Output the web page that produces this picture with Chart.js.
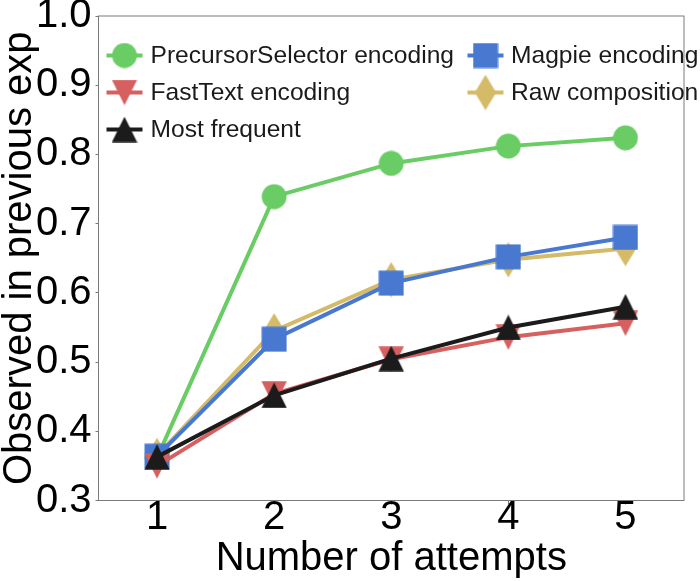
<!DOCTYPE html>
<html>
<head>
<meta charset="utf-8">
<script src="https://cdn.jsdelivr.net/npm/chart.js@4.4.1/dist/chart.umd.min.js"></script>
<style>
html,body{margin:0;padding:0;background:#ffffff;}
canvas{display:block;}
</style>
</head>
<body>
<canvas id="c" width="700" height="581"></canvas>
<script>
// ---- data ----
const attempts = [1, 2, 3, 4, 5];
const precursorSelector = [0.362, 0.739, 0.787, 0.812, 0.824];
const magpie = [0.364, 0.533, 0.614, 0.652, 0.680];
const fastText = [0.350, 0.454, 0.504, 0.536, 0.556];
const rawComposition = [0.365, 0.545, 0.619, 0.648, 0.664];
const mostFrequent = [0.363, 0.452, 0.505, 0.550, 0.580];
const xTicks = [1, 2, 3, 4, 5];
const yTicks = [0.3, 0.4, 0.5, 0.6, 0.7, 0.8, 0.9, 1.0];
const xTitle = 'Number of attempts';
const yTitle = 'Observed in previous exp';
// legend reading order (2 columns, row by row)
const legendOrder = ['PrecursorSelector encoding', 'Magpie encoding', 'FastText encoding', 'Raw composition', 'Most frequent'];

const FONT = "'Liberation Sans', Arial, Helvetica, sans-serif";

function makeMarker(shape, color) {
  const c = document.createElement('canvas');
  let w = 26, h = 26;
  if (shape === 'thin-diamond') { w = 22; h = 36; }
  c.width = w; c.height = h;
  const g = c.getContext('2d');
  g.fillStyle = color;
  g.beginPath();
  const cx = w / 2, cy = h / 2;
  if (shape === 'circle') {
    g.arc(cx, cy, 12.4, 0, Math.PI * 2);
  } else if (shape === 'square') {
    g.rect(0.5, 0.5, w - 1, h - 1);
  } else if (shape === 'tri-up') {
    g.moveTo(cx, 0.3); g.lineTo(w - 0.3, h - 0.3); g.lineTo(0.3, h - 0.3);
  } else if (shape === 'tri-down') {
    g.moveTo(0.3, 0.3); g.lineTo(w - 0.3, 0.3); g.lineTo(cx, h - 0.3);
  } else if (shape === 'thin-diamond') {
    g.moveTo(cx, 0.3); g.lineTo(w - 0.3, cy); g.lineTo(cx, h - 0.3); g.lineTo(0.3, cy);
  }
  g.closePath();
  g.fill();
  return c;
}

function pts(ys) { return attempts.map((x, i) => ({ x: x, y: ys[i] })); }

const series = [
  { label: 'Most frequent', values: mostFrequent, color: '#1b1b1b', shape: 'tri-up', order: 0 },
  { label: 'FastText encoding', values: fastText, color: '#d65f5f', shape: 'tri-down', order: 1 },
  { label: 'Magpie encoding', values: magpie, color: '#4878d0', shape: 'square', order: 2 },
  { label: 'Raw composition', values: rawComposition, color: '#d5bb67', shape: 'thin-diamond', order: 3 },
  { label: 'PrecursorSelector encoding', values: precursorSelector, color: '#6acc64', shape: 'circle', order: 4 }
];

const datasets = series.map(s => {
  const m = makeMarker(s.shape, s.color);
  return {
    label: s.label,
    data: pts(s.values),
    borderColor: s.color,
    backgroundColor: s.color,
    borderWidth: 4,
    pointStyle: m,
    pointRadius: 12,
    pointHoverRadius: 12,
    tension: 0,
    fill: false,
    order: s.order,
    clip: false,
    markerCanvas: m
  };
});

const framePlugin = {
  id: 'frame',
  beforeDatasetsDraw(chart) {
    const { ctx, chartArea: a } = chart;
    ctx.save();
    ctx.strokeStyle = '#7a7a7a';
    ctx.lineWidth = 1;
    ctx.strokeRect(a.left, a.top, a.right - a.left, a.bottom - a.top);
    ctx.restore();
  }
};

const legendPlugin = {
  id: 'customLegend',
  afterDatasetsDraw(chart) {
    const { ctx, chartArea: a } = chart;
    const colMarker = [a.left + 26, a.left + 387];
    const colText = [a.left + 52, a.left + 412.5];
    const rowY = [a.top + 39.5, a.top + 76.5, a.top + 113.5];
    ctx.save();
    ctx.font = '24.6px ' + FONT;
    ctx.textBaseline = 'middle';
    ctx.textAlign = 'left';
    legendOrder.forEach((lab, i) => {
      const ds = chart.data.datasets.find(d => d.label === lab);
      const col = i % 2, row = Math.floor(i / 2);
      const mx = colMarker[col], my = rowY[row];
      ctx.strokeStyle = ds.borderColor;
      ctx.lineWidth = 4;
      ctx.beginPath();
      ctx.moveTo(mx - 18, my);
      ctx.lineTo(mx + 18, my);
      ctx.stroke();
      const m = ds.markerCanvas;
      ctx.drawImage(m, mx - m.width / 2, my - m.height / 2);
      ctx.fillStyle = '#1a1a1a';
      ctx.fillText(lab, colText[col], my + 1);
    });
    ctx.restore();
  }
};

new Chart(document.getElementById('c'), {
  type: 'line',
  data: { datasets: datasets },
  options: {
    responsive: false,
    animation: false,
    devicePixelRatio: 1,
    layout: { padding: { top: 14.5, right: 3.5, bottom: 0, left: 0 } },
    plugins: { legend: { display: false }, tooltip: { enabled: false } },
    scales: {
      x: {
        type: 'linear',
        min: 0.5,
        max: 5.5,
        afterBuildTicks: (axis) => { axis.ticks = xTicks.map(v => ({ value: v })); },
        afterFit: (axis) => { axis.height = 80.5; axis.paddingLeft = 0; axis.paddingRight = 0; },
        ticks: {
          autoSkip: false, maxRotation: 0, padding: 0,
          color: '#000', font: { family: FONT, size: 40, lineHeight: 0.65 },
          callback: (v) => String(v)
        },
        grid: { drawOnChartArea: false, drawTicks: true, tickLength: 4, tickColor: '#7a7a7a', tickWidth: 1 },
        border: { display: false },
        title: {
          display: true, text: xTitle, color: '#000',
          font: { family: FONT, size: 40, lineHeight: 1.0 },
          padding: { top: 0, bottom: 2 }
        }
      },
      y: {
        type: 'linear',
        min: 0.3,
        max: 1.0,
        afterBuildTicks: (axis) => { axis.ticks = yTicks.map(v => ({ value: v })); },
        afterFit: (axis) => { axis.width = 98.5; axis.paddingTop = 0; axis.paddingBottom = 0; },
        ticks: {
          autoSkip: false, padding: 4,
          color: '#000', font: { family: FONT, size: 40 },
          callback: (v) => Number(v).toFixed(1)
        },
        grid: { drawOnChartArea: false, drawTicks: true, tickLength: 3, tickColor: '#7a7a7a', tickWidth: 1 },
        border: { display: false },
        title: {
          display: true, text: yTitle, color: '#000',
          font: { family: FONT, size: 40, lineHeight: 1.0 },
          padding: { top: 0, bottom: 0 }
        }
      }
    }
  },
  plugins: [framePlugin, legendPlugin]
});
</script>
</body>
</html>
